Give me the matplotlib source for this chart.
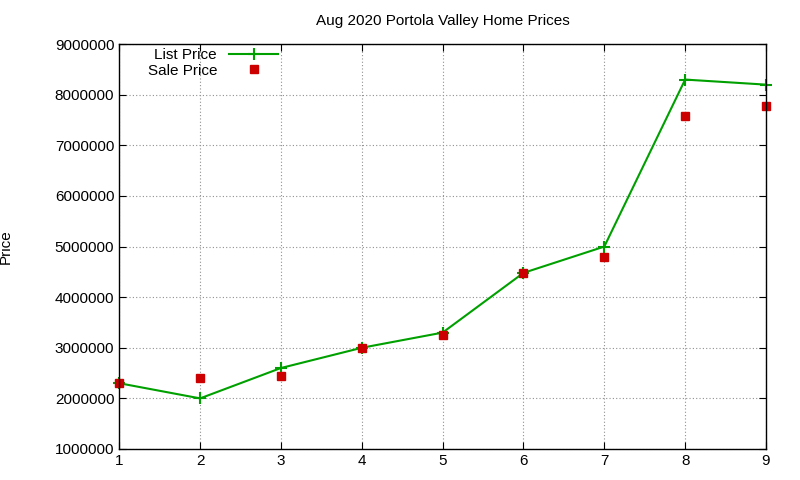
import matplotlib
matplotlib.use("Agg")
import matplotlib.pyplot as plt

plt.rcParams['font.family'] = ['Liberation Sans', 'DejaVu Sans']

x = [1, 2, 3, 4, 5, 6, 7, 8, 9]
list_price = [2300000, 2000000, 2600000, 3000000, 3300000, 4480000, 5000000, 8300000, 8200000]
sale_price = [2300000, 2400000, 2450000, 3000000, 3250000, 4480000, 4790000, 7580000, 7780000]
yticks = [1000000, 2000000, 3000000, 4000000, 5000000, 6000000, 7000000, 8000000, 9000000]

fig = plt.figure(figsize=(8, 4.8), dpi=100)
ax = fig.add_axes([0.149, 0.0646, 0.8085, 0.8434])
ax.plot(x, list_price, color='#00a000', lw=1.5, marker='+', ms=8, mew=1.5, label='List Price', clip_on=False)
ax.plot(x, sale_price, ls='none', marker='s', ms=6, color='#cc0000', label='Sale Price', clip_on=False)
ax.set_xlim(1, 9)
ax.set_ylim(1000000, 9000000)
ax.set_xticks(x)
ax.set_yticks(yticks)
ax.set_yticklabels([str(v) for v in yticks])
ax.tick_params(direction='in', top=True, right=True, labelsize=11, length=5)
ax.grid(True, color='#909090', ls=(0, (1, 2)), lw=0.8)
ax.set_ylabel('Price', fontsize=11)
ax.yaxis.set_label_coords(-0.165, 0.5)
ax.set_title('Aug 2020 Portola Valley Home Prices', fontsize=11, pad=14)
ax.legend(loc='upper left', markerfirst=False, frameon=False, fontsize=11,
          bbox_to_anchor=(0.025, 1.02), handlelength=3.2, borderpad=0.3, labelspacing=0.1)
for s in ax.spines.values():
    s.set_linewidth(1.0)
fig.savefig('out.png', dpi=100)
